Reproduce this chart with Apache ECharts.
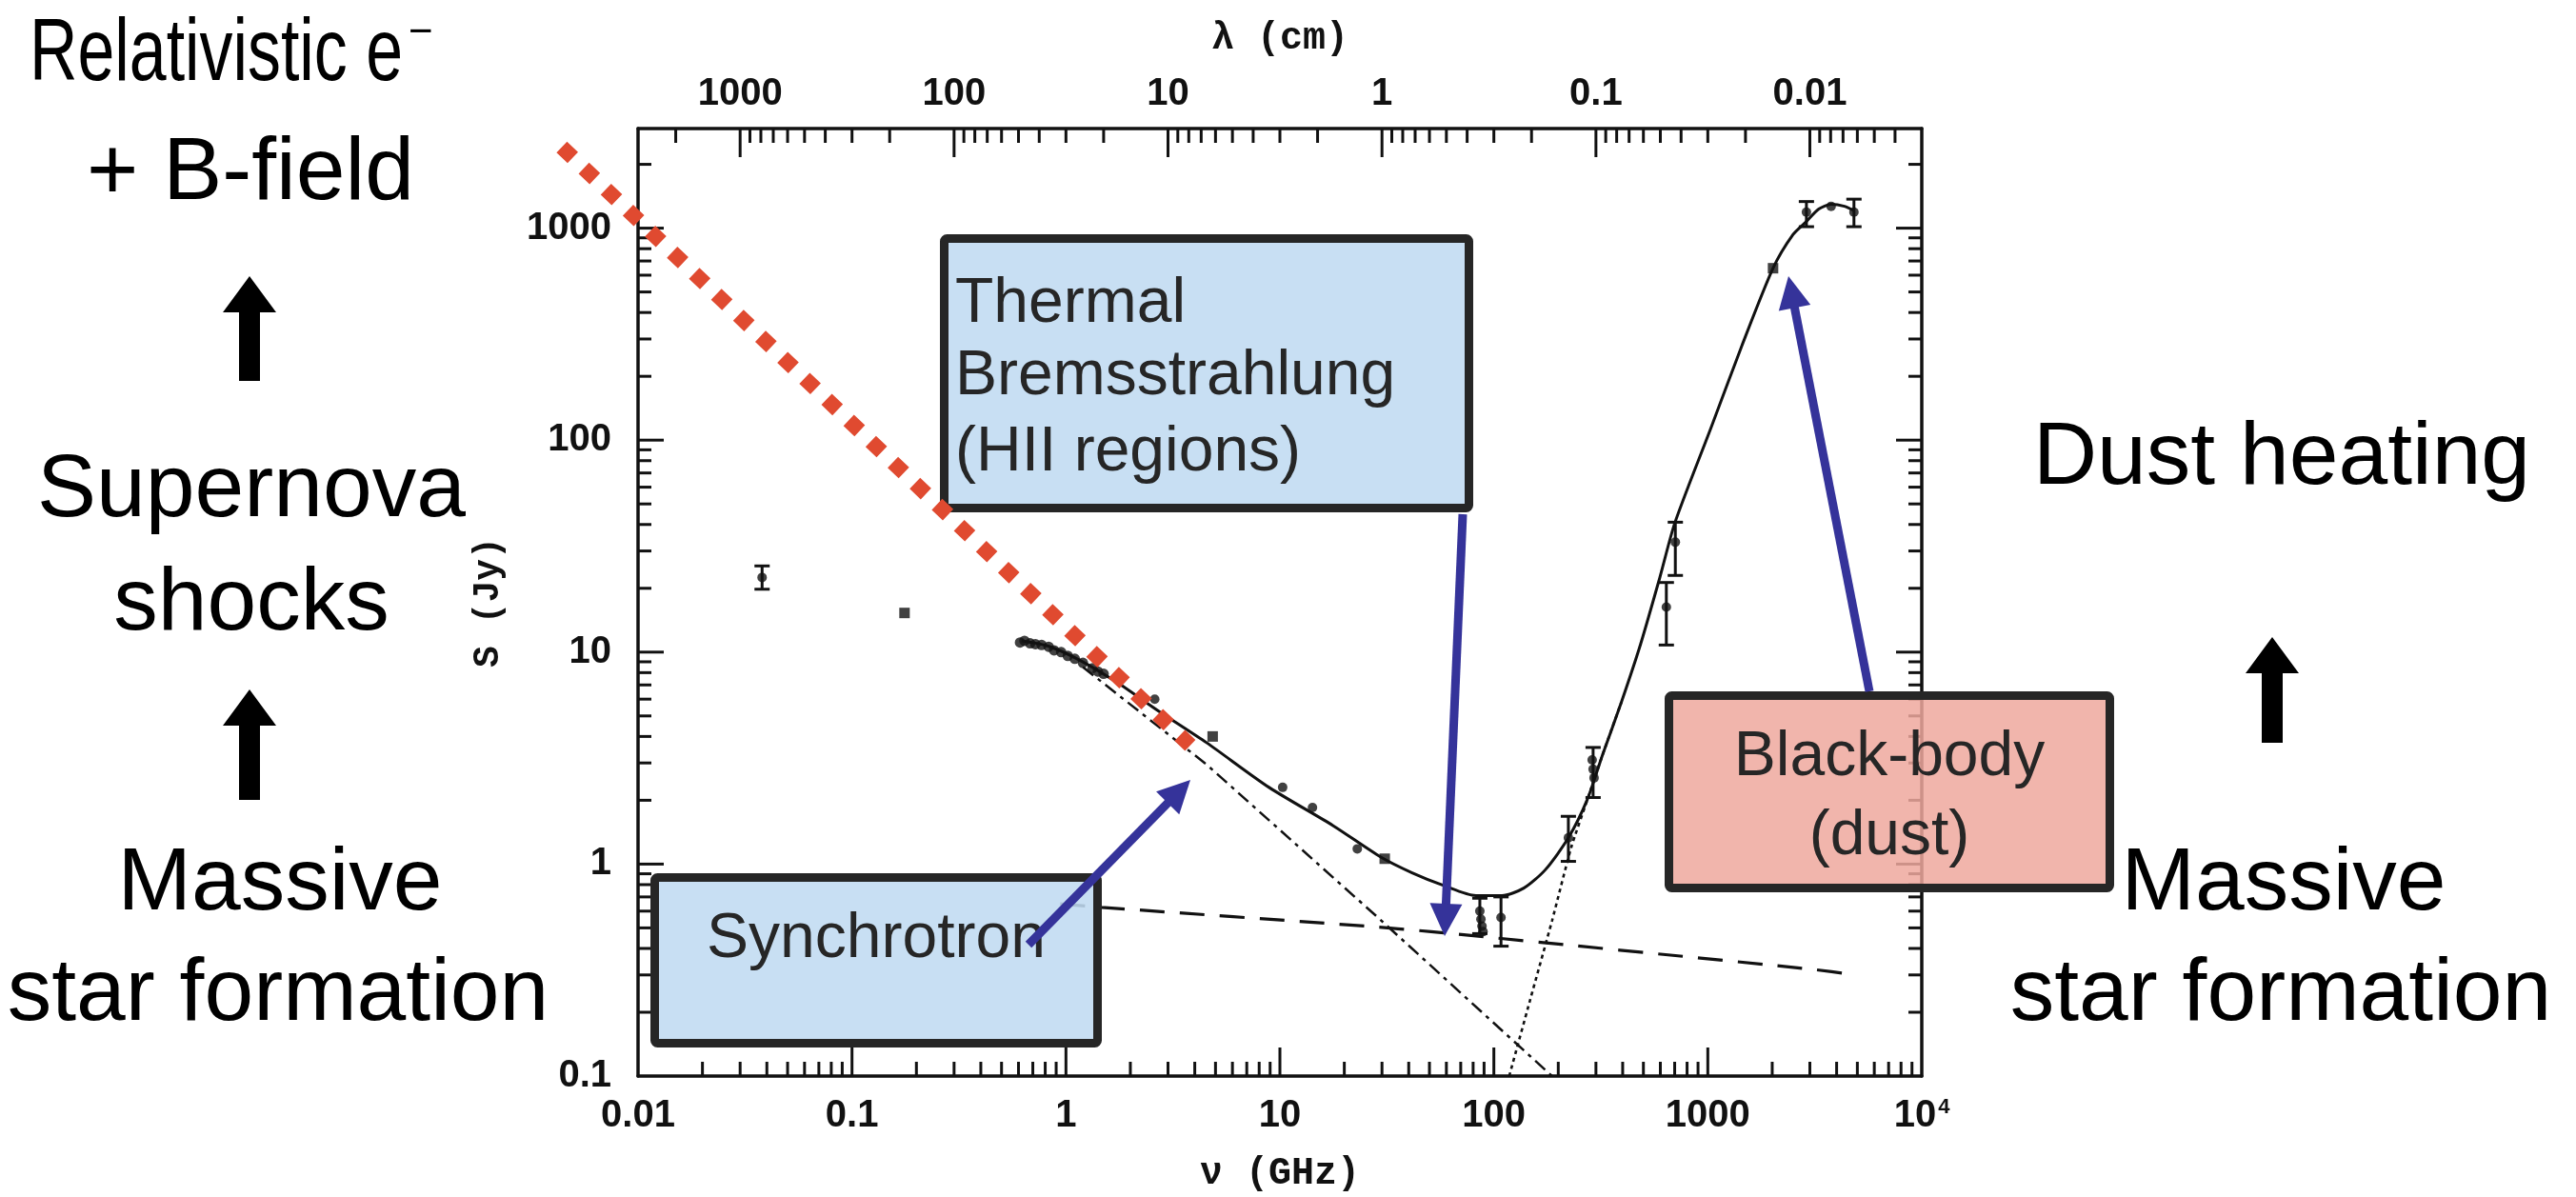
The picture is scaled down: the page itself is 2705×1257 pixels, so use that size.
<!DOCTYPE html>
<html>
<head>
<meta charset="utf-8">
<script src="https://cdn.jsdelivr.net/npm/echarts@6/dist/echarts.min.js"></script>
<style>
html,body{margin:0;padding:0;background:#ffffff;}
#chart{width:2705px;height:1257px;}
</style>
</head>
<body>
<div id="chart"></div>
<script>
// ---------------- tick labels ----------------
const xDecades = [0.01, 0.1, 1, 10, 100, 1000, 10000];
const xTickLabels = ['0.01', '0.1', '1', '10', '100', '1000', '10^4'];
const yDecades = [0.1, 1, 10, 100, 1000];
const yTickLabels = ['0.1', '1', '10', '100', '1000'];
const lambdaDecades = [1000, 100, 10, 1, 0.1, 0.01];
const lambdaTickLabels = ['1000', '100', '10', '1', '0.1', '0.01'];
const minorMultipliers = [2, 3, 4, 5, 6, 7, 8, 9];

// ---------------- data (nu in GHz, S in Jy) ----------------
const totalFitCurve = [
  [0.62, 11.3], [0.82, 10.7], [1.15, 9.2], [1.73, 7.2], [2.72, 5.26], [4.54, 3.74],
  [8.9, 2.30], [17.7, 1.52], [29.6, 1.08], [41.5, 0.91], [58.7, 0.79], [82.4, 0.71],
  [109, 0.71], [138, 0.77], [174, 0.94], [223, 1.33], [273, 2.01], [322, 3.27],
  [395, 5.83], [485, 10.9], [596, 22.4], [703, 41], [1037, 115], [1439, 277],
  [2018, 647], [2500, 931], [2890, 1075], [3300, 1230], [3770, 1295], [4350, 1268], [4820, 1210]
];
const synchrotronCurve = [[1.2, 8.5], [4.54, 2.95], [28.7, 0.56], [187, 0.1]];
const freeFreeCurve = [[0.94, 0.65], [1.47, 0.625], [24.9, 0.51], [50.9, 0.48], [2980, 0.32], [4920, 0.30]];
const dustCurve = [[118, 0.1], [148, 0.23], [187, 0.54], [230, 1.2], [273, 2.0], [322, 3.27], [395, 5.83]];
const observedCluster = [
  [0.61, 11.1], [0.64, 11.3], [0.68, 11.0], [0.72, 10.9], [0.77, 10.8], [0.83, 10.6],
  [0.88, 10.2], [0.95, 10.0], [1.02, 9.6], [1.1, 9.3], [1.2, 8.9], [1.33, 8.4], [1.41, 8.1], [1.5, 7.9]
];
const observedCircles = [
  [0.038, 22.5], [2.6, 6.0], [10.3, 2.3], [14.2, 1.85], [23.0, 1.18],
  [86, 0.60], [87, 0.55], [88, 0.51], [89, 0.48], [108, 0.56],
  [223, 1.33], [288, 3.1], [291, 2.8], [294, 2.55],
  [640, 16.3], [705, 33], [2890, 1190], [3770, 1268], [4820, 1190]
];
const observedSquares = [[0.176, 15.3], [4.85, 4.0], [30.9, 1.06], [2018, 647]];
// [nu, S, low, high]
const errorBars = [
  [0.038, 22.5, 19.8, 25.5], [86, 0.60, 0.47, 0.69], [108, 0.56, 0.41, 0.70],
  [223, 1.33, 1.03, 1.68], [291, 2.8, 2.06, 3.55], [640, 16.3, 10.8, 21.3],
  [705, 33, 23, 41], [2890, 1190, 1016, 1335], [4820, 1190, 1016, 1370]
];
// hand-drawn synchrotron extrapolation (red diamonds), endpoints
const synchrotronExtrapolation = [[0.0044, 2410], [3.81, 3.63]];

// ---------------- helpers ----------------
function decadeLabel(v, decades, labels) {
  const lv = Math.log10(v);
  for (let i = 0; i < decades.length; i++) {
    if (Math.abs(Math.log10(decades[i]) - lv) < 0.01) return labels[i];
  }
  return '';
}
function tickValues(decades, lo, hi, majorLen, minorLen) {
  const out = [];
  decades.forEach(d => {
    if (d > lo * 1.0001 && d < hi * 0.9999) out.push([d, majorLen]);
    minorMultipliers.forEach(m => {
      const v = m * d;
      if (v > lo * 1.0001 && v < hi * 0.9999) out.push([v, minorLen]);
    });
  });
  return out;
}
const xTicks = tickValues([0.01, 0.1, 1, 10, 100, 1000], 0.01, 10000, 30, 15);
const lambdaTicks = tickValues([0.001, 0.01, 0.1, 1, 10, 100, 1000], 0.003, 3000, 30, 15);
const yTicks = tickValues([0.1, 1, 10, 100, 1000], 0.1, 2950, 27, 14);

const INK = '#111111';
const tickFont = {fontFamily: '"Liberation Sans", Arial, sans-serif', fontWeight: 'bold', fontSize: 40, color: INK};
const nameFont = {fontFamily: '"Liberation Mono", "DejaVu Sans Mono", monospace', fontWeight: 'bold', fontSize: 40, color: INK};
const axisLineStyle = {show: true, onZero: false, lineStyle: {color: INK, width: 3.5}};

const chart = echarts.init(document.getElementById('chart'), null, {renderer: 'canvas', width: 2705, height: 1257});

const option = {
  animation: false,
  backgroundColor: '#ffffff',
  grid: {left: 670, top: 135, width: 1348, height: 995, containLabel: false, outerBoundsMode: 'none'},
  xAxis: [
    {
      type: 'log', logBase: 10, min: 0.01, max: 10000, position: 'bottom',
      name: 'ν (GHz)', nameLocation: 'middle', nameGap: 83, nameTextStyle: nameFont,
      axisLine: axisLineStyle, axisTick: {show: false}, minorTick: {show: false}, splitLine: {show: false},
      axisLabel: {
        ...tickFont, margin: 22,
        formatter: v => { const s = decadeLabel(v, xDecades, xTickLabels); return s === '10^4' ? '10{sup|4}' : s; },
        rich: {sup: {fontFamily: '"Liberation Sans", Arial, sans-serif', fontWeight: 'bold', fontSize: 22, color: INK, verticalAlign: 'top', lineHeight: 22, padding: [0, 0, 10, 2]}}
      }
    },
    {
      type: 'log', logBase: 10, min: 0.003, max: 3000, inverse: true, position: 'top',
      name: 'λ (cm)', nameLocation: 'middle', nameGap: 74, nameTextStyle: nameFont,
      axisLine: axisLineStyle, axisTick: {show: false}, minorTick: {show: false}, splitLine: {show: false},
      axisLabel: {...tickFont, margin: 16, formatter: v => decadeLabel(v, lambdaDecades, lambdaTickLabels)}
    }
  ],
  yAxis: [
    {
      type: 'log', logBase: 10, min: 0.1, max: 2950, position: 'left',
      name: 'S (Jy)', nameLocation: 'middle', nameGap: 138, nameTextStyle: {...nameFont, fontSize: 38},
      axisLine: axisLineStyle, axisTick: {show: false}, minorTick: {show: false}, splitLine: {show: false},
      axisLabel: {...tickFont, margin: 28, formatter: v => decadeLabel(v, yDecades, yTickLabels)}
    },
    {
      type: 'log', logBase: 10, min: 0.1, max: 2950, position: 'right',
      axisLine: axisLineStyle, axisTick: {show: false}, minorTick: {show: false}, splitLine: {show: false},
      axisLabel: {show: false}
    }
  ],
  series: [
    {
      name: 'total', type: 'line', data: totalFitCurve, smooth: 0.25, symbol: 'none',
      lineStyle: {color: INK, width: 3}, z: 3
    },
    {
      name: 'synchrotron', type: 'line', data: synchrotronCurve, symbol: 'none',
      lineStyle: {color: INK, width: 2.5, type: [14, 6, 4, 6]}, z: 3
    },
    {
      name: 'free-free', type: 'line', data: freeFreeCurve, smooth: 0.2, symbol: 'none',
      lineStyle: {color: INK, width: 3.2, type: [26, 16]}, z: 3
    },
    {
      name: 'dust', type: 'line', data: dustCurve, smooth: 0.2, symbol: 'none',
      lineStyle: {color: INK, width: 2.6, type: [4, 4]}, z: 3
    },
    {
      name: 'obsCluster', type: 'scatter', data: observedCluster, symbol: 'circle', symbolSize: 11,
      itemStyle: {color: INK}, z: 4
    },
    {
      name: 'obs', type: 'scatter', data: observedCircles, symbol: 'circle', symbolSize: 10,
      itemStyle: {color: INK}, z: 4
    },
    {
      name: 'obs2', type: 'scatter', data: observedSquares, symbol: 'rect', symbolSize: 11,
      itemStyle: {color: INK}, z: 4
    },
    {
      name: 'errors', type: 'custom', data: errorBars, encode: {x: 0, y: 1}, z: 4,
      renderItem: (params, api) => {
        const x = api.coord([api.value(0), api.value(2)])[0];
        const yl = api.coord([api.value(0), api.value(2)])[1];
        const yh = api.coord([api.value(0), api.value(3)])[1];
        const st = {stroke: INK, lineWidth: 3};
        return {type: 'group', children: [
          {type: 'line', shape: {x1: x, y1: yl, x2: x, y2: yh}, style: st},
          {type: 'line', shape: {x1: x - 8, y1: yl, x2: x + 8, y2: yl}, style: st},
          {type: 'line', shape: {x1: x - 8, y1: yh, x2: x + 8, y2: yh}, style: st}
        ]};
      }
    },
    {
      name: 'extrapolation', type: 'custom', clip: false, silent: true, z: 20,
      data: [synchrotronExtrapolation[1]], encode: {x: 0, y: 1},
      renderItem: (params, api) => {
        const pts = synchrotronExtrapolation.map(p => api.coord(p));
        return {type: 'polyline', shape: {points: pts},
          style: {stroke: '#e04a30', lineWidth: 16, lineDash: [16, 16], lineCap: 'butt', fill: null}};
      }
    },
    {
      name: 'xticks', type: 'custom', xAxisIndex: 0, yAxisIndex: 0, silent: true, z: 1,
      data: xTicks.map(t => [t[0], 1, t[1]]), encode: {x: 0, y: 1},
      renderItem: (params, api) => {
        const cs = params.coordSys;
        const x = api.coord([api.value(0), 1])[0];
        const y0 = cs.y + cs.height;
        return {type: 'line', shape: {x1: x, y1: y0, x2: x, y2: y0 - api.value(2)}, style: {stroke: INK, lineWidth: 3}};
      }
    },
    {
      name: 'lambdaTicks', type: 'custom', xAxisIndex: 1, yAxisIndex: 0, silent: true, z: 1,
      data: lambdaTicks.map(t => [t[0], 1, t[1]]), encode: {x: 0, y: 1},
      renderItem: (params, api) => {
        const cs = params.coordSys;
        const x = api.coord([api.value(0), 1])[0];
        const y0 = cs.y;
        return {type: 'line', shape: {x1: x, y1: y0, x2: x, y2: y0 + api.value(2)}, style: {stroke: INK, lineWidth: 3}};
      }
    },
    {
      name: 'yticks', type: 'custom', xAxisIndex: 0, yAxisIndex: 0, silent: true, z: 1,
      data: yTicks.map(t => [1, t[0], t[1]]), encode: {x: 0, y: 1},
      renderItem: (params, api) => {
        const cs = params.coordSys;
        const y = api.coord([1, api.value(1)])[1];
        const len = api.value(2);
        const st = {stroke: INK, lineWidth: 3};
        return {type: 'group', children: [
          {type: 'line', shape: {x1: cs.x, y1: y, x2: cs.x + len, y2: y}, style: st},
          {type: 'line', shape: {x1: cs.x + cs.width, y1: y, x2: cs.x + cs.width - len, y2: y}, style: st}
        ]};
      }
    }
  ]
};

// ---------------- slide annotations (pixel layout) ----------------
const SLIDE_FONT = '"Liberation Sans", "Helvetica Neue", Arial, sans-serif';
const BOX_INK = '#262626';
const ARROW_BLUE = '#35339a';

function slideTextAt(text, x, cy, size, align, color, sx) {
  return {type: 'text', z: 15, x: x, y: cy, scaleX: sx || 1, originX: 0, originY: 0,
    style: {text: text, fontFamily: SLIDE_FONT, fontSize: size, fill: color || '#000000',
      textAlign: align || 'center', textVerticalAlign: 'middle', verticalAlign: 'middle'}};
}
function slideText(text, x, baseline, size, align, color) {
  return slideTextAt(text, x, baseline - 0.28 * size, size, align, color);
}
function box(x1, y1, x2, y2, fill) {
  const w = 9;
  return {type: 'rect', z: 10,
    shape: {x: x1 + w / 2, y: y1 + w / 2, width: x2 - x1 - w, height: y2 - y1 - w, r: 3},
    style: {fill: fill, stroke: BOX_INK, lineWidth: w}};
}
function blackUpArrow(cx, tipY, baseY, bottomY) {
  const hw = 28, sw = 11;
  return {type: 'polygon', z: 15,
    shape: {points: [[cx, tipY], [cx + hw, baseY], [cx + sw, baseY], [cx + sw, bottomY], [cx - sw, bottomY], [cx - sw, baseY], [cx - hw, baseY]]},
    style: {fill: '#000000'}};
}
function blueArrow(sx, sy, tx, ty) {
  const L = 34, HW = 17;
  const dx = tx - sx, dy = ty - sy, d = Math.hypot(dx, dy);
  const ux = dx / d, uy = dy / d, nx = -uy, ny = ux;
  const bx = tx - ux * L, by = ty - uy * L;
  return [
    {type: 'line', z: 30, shape: {x1: sx, y1: sy, x2: bx + ux * 2, y2: by + uy * 2}, style: {stroke: ARROW_BLUE, lineWidth: 9}},
    {type: 'polygon', z: 30, shape: {points: [[tx, ty], [bx + nx * HW, by + ny * HW], [bx - nx * HW, by - ny * HW]]}, style: {fill: ARROW_BLUE}}
  ];
}

// the first line of the left column is set tighter in the slide: fit it to its width
const measureCtx = document.createElement('canvas').getContext('2d');
measureCtx.font = '93px "Liberation Sans", "Helvetica Neue", Arial, sans-serif';
const relWidth = measureCtx.measureText('Relativistic e').width || 522;
const relScale = 392 / relWidth;

const graphics = [
  // left column
  slideTextAt('Relativistic e', 31, 58, 93, 'left', '#000000', relScale),
  {type: 'text', z: 15, x: 429, y: 35, style: {text: '−', fontFamily: SLIDE_FONT, fontSize: 44, fill: '#000', textAlign: 'left', textVerticalAlign: 'middle', verticalAlign: 'middle'}},
  slideTextAt('+ B-field', 263, 183, 93),
  blackUpArrow(262, 290, 328, 400),
  slideTextAt('Supernova', 264, 516, 93),
  slideTextAt('shocks', 264, 635, 93),
  blackUpArrow(262, 724, 762, 840),
  slideTextAt('Massive', 294, 929, 93),
  slideTextAt('star formation', 292, 1045, 93),
  // right column
  slideTextAt('Dust heating', 2396, 482, 93),
  blackUpArrow(2386, 669, 707, 780),
  slideTextAt('Massive', 2398, 929, 93),
  slideTextAt('star formation', 2395, 1045, 93),
  // boxes
  box(987, 246, 1547, 538, 'rgba(192,219,241,0.88)'),
  slideText('Thermal', 1003, 338, 66, 'left', BOX_INK),
  slideText('Bremsstrahlung', 1003, 414, 66, 'left', BOX_INK),
  slideText('(HII regions)', 1003, 494, 66, 'left', BOX_INK),
  box(683, 917, 1157, 1100, 'rgba(192,219,241,0.88)'),
  slideText('Synchrotron', 920, 1005, 66, 'center', BOX_INK),
  box(1748, 726, 2220, 937, 'rgba(238,168,158,0.85)'),
  slideText('Black-body', 1984, 814, 66, 'center', BOX_INK),
  slideText('(dust)', 1984, 897, 66, 'center', BOX_INK)
].concat(
  blueArrow(1536, 540, 1517, 983),
  blueArrow(1080, 992, 1250, 819),
  blueArrow(1963, 726, 1878, 290)
);
option.graphic = {elements: graphics};

chart.setOption(option);
</script>
</body>
</html>
